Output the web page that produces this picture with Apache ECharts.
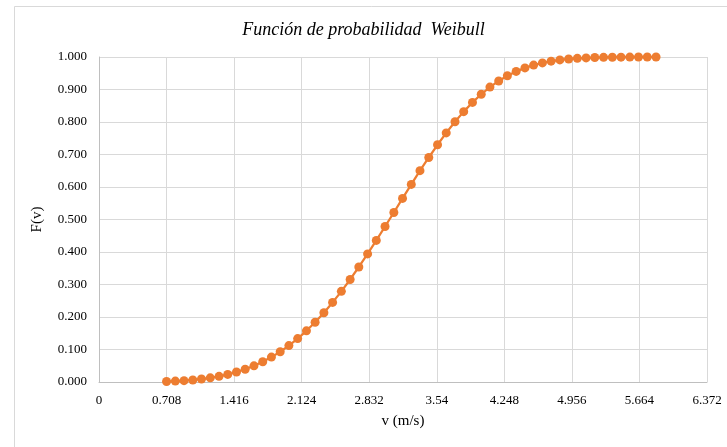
<!DOCTYPE html>
<html>
<head>
<meta charset="utf-8">
<script src="https://cdn.jsdelivr.net/npm/echarts@6/dist/echarts.min.js"></script>
<style>
html,body{margin:0;padding:0;background:#fff;}
#chart{width:727px;height:447px;}
</style>
</head>
<body>
<div id="chart"></div>
<script>
const title = 'Función de probabilidad  Weibull';
const xName = 'v (m/s)';
const yName = 'F(v)';
const xTicks = [0, 0.708, 1.416, 2.124, 2.832, 3.54, 4.248, 4.956, 5.664, 6.372];
const yTicks = [0, 0.1, 0.2, 0.3, 0.4, 0.5, 0.6, 0.7, 0.8, 0.9, 1.0];
const speeds = [0.708,0.800,0.891,0.983,1.074,1.166,1.258,1.349,1.441,1.532,1.624,1.716,1.807,1.899,1.990,2.082,2.174,2.265,2.357,2.448,2.540,2.632,2.723,2.815,2.906,2.998,3.090,3.181,3.273,3.364,3.456,3.548,3.639,3.731,3.822,3.914,4.006,4.097,4.189,4.280,4.372,4.464,4.555,4.647,4.738,4.830,4.922,5.013,5.105,5.196,5.288,5.380,5.471,5.563,5.654,5.746,5.838];
const probs = [0.0016,0.0027,0.0042,0.0063,0.0092,0.0128,0.0175,0.0234,0.0306,0.0394,0.0498,0.0622,0.0766,0.0932,0.1121,0.1335,0.1575,0.1840,0.2131,0.2449,0.2790,0.3155,0.3539,0.3941,0.4357,0.4784,0.5215,0.5650,0.6080,0.6502,0.6908,0.7299,0.7665,0.8006,0.8319,0.8602,0.8854,0.9074,0.9263,0.9423,0.9556,0.9665,0.9751,0.9819,0.9871,0.9910,0.9939,0.9959,0.9973,0.9983,0.9990,0.9994,0.9996,0.9998,0.9999,0.9999,1.0000];

const chart = echarts.init(document.getElementById('chart'));
const serif = 'Liberation Serif, Times New Roman, serif';
chart.setOption({
  animation: false,
  backgroundColor: '#fff',
  graphic: [{
    type: 'rect', left: 12, top: 4, silent: true,
    shape: { width: 760, height: 480 },
    style: { fill: 'none', stroke: '#d9d9d9', lineWidth: 1 }
  }],
  title: {
    text: title, left: 'center', top: 16,
    textStyle: { fontFamily: serif, fontStyle: 'italic', fontWeight: 'normal', fontSize: 18, color: '#000' }
  },
  grid: { left: 99, right: 20, top: 57, bottom: 65 },
  xAxis: {
    type: 'value', min: 0, max: xTicks[xTicks.length - 1], interval: 0.708,
    name: xName, nameLocation: 'middle', nameGap: 32,
    nameTextStyle: { fontFamily: serif, fontSize: 15, color: '#000' },
    axisLine: { show: true, lineStyle: { color: '#bfbfbf' } },
    axisTick: { show: false },
    axisLabel: { fontFamily: serif, fontSize: 13, color: '#000', margin: 12,
      formatter: v => { const t = xTicks.find(x => Math.abs(x - v) < 1e-6); return t === undefined ? '' : String(t); } },
    splitLine: { show: true, lineStyle: { color: '#d9d9d9' } }
  },
  yAxis: {
    type: 'value', min: 0, max: 1, interval: 0.1,
    name: yName, nameLocation: 'middle', nameGap: 54,
    nameTextStyle: { fontFamily: serif, fontSize: 15, color: '#000' },
    axisLine: { show: true, lineStyle: { color: '#bfbfbf' } },
    axisTick: { show: false },
    axisLabel: { fontFamily: serif, fontSize: 13, color: '#000', margin: 12,
      formatter: v => v.toFixed(3) },
    splitLine: { show: true, lineStyle: { color: '#d9d9d9' } }
  },
  series: [{
    type: 'line',
    data: speeds.map((v, i) => [v, probs[i]]),
    symbol: 'circle', symbolSize: 9,
    lineStyle: { color: '#ED7D31', width: 2.25 },
    itemStyle: { color: '#ED7D31' }
  }]
});
</script>
</body>
</html>
